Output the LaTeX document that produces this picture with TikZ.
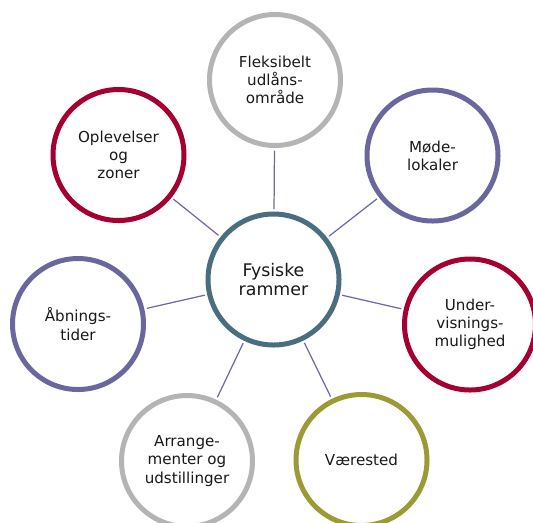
\documentclass[tikz,border=0pt]{standalone}
\usepackage{fontspec}
\setmainfont{DejaVu Sans}
\usetikzlibrary{calc}
\definecolor{ringgray}{HTML}{B4B4B4}
\definecolor{ringblue}{HTML}{6A679F}
\definecolor{ringred}{HTML}{A5002F}
\definecolor{ringolive}{HTML}{9C9A35}
\definecolor{ringslate}{HTML}{4A6E80}
\definecolor{linkblue}{HTML}{6C69A6}
\tikzset{
  ring/.style={circle, draw=#1, line width=5*0.02cm, fill=white,
    minimum size=131*0.02cm, inner sep=0pt, align=center,
    font=\fontsize{8.6}{10.4}\selectfont, text=black!90},
  link/.style={draw=linkblue, line width=0.7pt, shorten <=0.05cm, shorten >=0.05cm}
}
\begin{document}
\begin{tikzpicture}[x=0.02cm, y=-0.02cm]
				%%%%% rings %%%%%
				\useasboundingbox (0,0) rectangle (533,522);
				\def\xc{273.5}
				\def\yc{279.5}

				\node[ring=ringslate, font=\fontsize{9.9}{10.9}\selectfont] (fysisk) at (\xc,\yc) {Fysiske\\rammer};

				\node[ring=ringgray] (fleks) at (275,80) {Fleksibelt\\udlåns-\\område};
				\node[ring=ringblue] (mode) at (432.5,155.5) {Møde-\\lokaler};
				\node[ring=ringred] (under) at (470,324.5) {Under-\\visnings-\\mulighed};
				\node[ring=ringolive] (vaer) at (361.5,460) {Værested};
				\node[ring=ringgray] (arrang) at (187,461) {Arrange-\\menter og\\udstillinger};
				\node[ring=ringblue] (aabn) at (78,324) {Åbnings-\\tider};
				\node[ring=ringred] (oplev) at (118.5,155) {Oplevelser\\og\\zoner};

				%%%%% links %%%%%
				\draw[link] (fysisk) -- (fleks);
				\draw[link] (fysisk) -- (mode);
				\draw[link] (fysisk) -- (under);
				\draw[link] (fysisk) -- (vaer);
				\draw[link] (fysisk) -- (arrang);
				\draw[link] (fysisk) -- (aabn);
				\draw[link] (fysisk) -- (oplev);
\end{tikzpicture}
\end{document}
